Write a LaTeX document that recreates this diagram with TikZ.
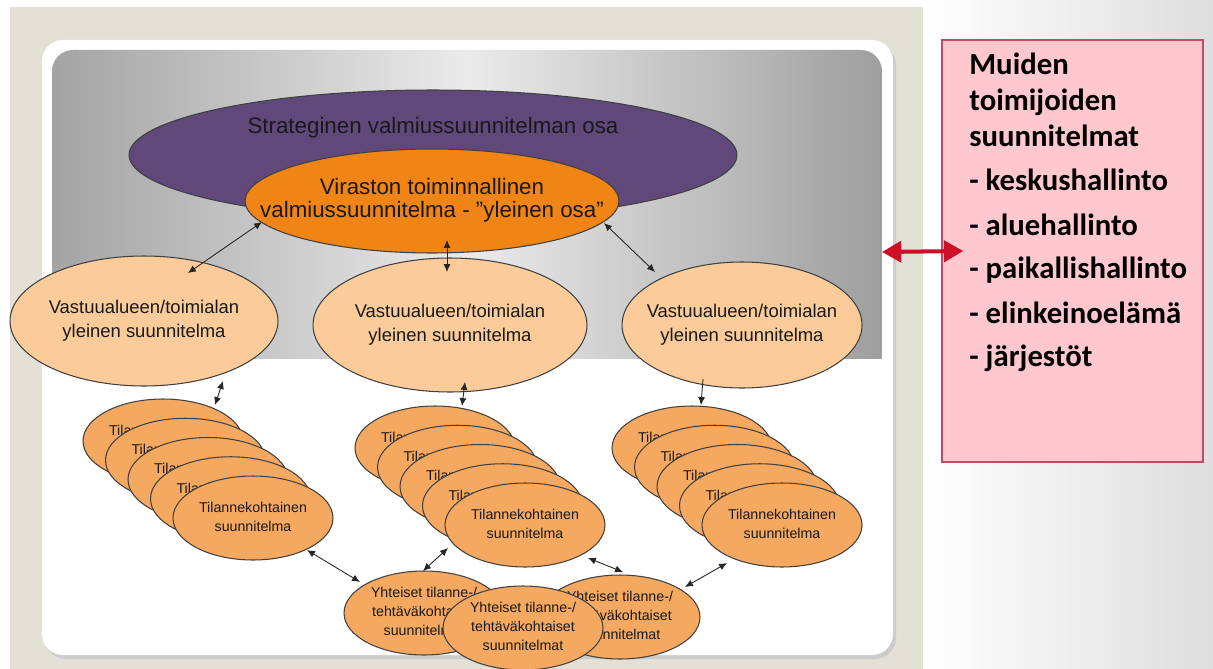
\documentclass[tikz,border=0pt]{standalone}
\usepackage{fontspec}
\setmainfont{Liberation Sans}
\newfontfamily\boxfont{Carlito}
\usetikzlibrary{arrows.meta, shapes.geometric}

\definecolor{slidebg}{RGB}{227,224,214}
\definecolor{stratviolet}{RGB}{96,73,122}
\definecolor{virorange}{RGB}{240,132,20}
\definecolor{areapeach}{RGB}{251,204,154}
\definecolor{tilaorange}{RGB}{245,168,96}
\definecolor{boxpink}{RGB}{255,199,206}
\definecolor{boxrim}{RGB}{200,72,100}
\definecolor{arrowred}{RGB}{204,16,40}

% text in a zero-width box, so the ellipse keeps its given size
\newcommand{\ctext}[1]{\makebox[0pt]{\begin{tabular}{@{}c@{}}#1\end{tabular}}}

\begin{document}
\begin{tikzpicture}[x=0.02cm, y=-0.02cm,
    plan/.style={ellipse, draw=black!75, line width=0.6pt, inner sep=0pt, text=black!90},
    strat/.style={plan, fill=stratviolet, minimum width=12.16cm, minimum height=2.6cm},
    vir/.style={plan, fill=virorange, minimum width=7.48cm, minimum height=2.08cm, font=\fontsize{12.7}{12.5}\selectfont},
    area/.style={plan, fill=areapeach, font=\fontsize{10.5}{13.6}\selectfont},
    tila/.style={plan, fill=tilaorange, minimum width=3.2cm, minimum height=1.68cm, font=\fontsize{8.1}{10.8}\selectfont},
    link/.style={{Latex[length=4.5pt,width=4pt]}-{Latex[length=4.5pt,width=4pt]}, line width=0.5pt, black!85},
    redlink/.style={{Triangle[length=11pt,width=12pt]}-{Triangle[length=11pt,width=12pt]}, line width=2.3pt, arrowred},
    boxline/.style={anchor=base west, inner sep=0pt, font=\boxfont\bfseries\fontsize{17.5}{20}\selectfont},
    ]
    \useasboundingbox (0,0) rectangle (1213,669);

    % tausta
    \fill[white] (0,0) rectangle (1213,669);
    \fill[slidebg] (10,7) rectangle (923,669);
    \shade[left color=white, right color=black!13] (923,0) rectangle (1213,669);

    % dia
    \fill[black!20, rounded corners=12] (45,44) rectangle (896,659);
    \fill[white, rounded corners=12] (42,40) rectangle (893,655);
    \begin{scope}
        \clip (52,50) rectangle (882,358);
        \shade[left color=black!36, right color=black!38, middle color=black!8, rounded corners=12] (52,50) rectangle (882,380);
    \end{scope}

    % strateginen ja yleinen osa
    \node[strat] (strat) at (433,155) {};
    \node[font=\fontsize{12.7}{12.5}\selectfont, text=black!90] (strattxt) at (433,128) {Strateginen valmiussuunnitelman osa};
    \node[vir] (vir) at (432,201) {\ctext{Viraston toiminnallinen\\valmiussuunnitelma - ”yleinen osa”}};

    % vastuualueet
    \node[area, minimum width=5.36cm, minimum height=2.6cm] (va) at (144,321) {\ctext{Vastuualueen/toimialan\\yleinen suunnitelma}};
    \node[area, minimum width=5.48cm, minimum height=2.68cm] (vb) at (450,325) {\ctext{Vastuualueen/toimialan\\yleinen suunnitelma}};
    \node[area, minimum width=4.8cm, minimum height=2.52cm] (vc) at (742,325) {\ctext{Vastuualueen/toimialan\\yleinen suunnitelma}};

    % tilannekohtaiset pinot
    \foreach \s/\x/\y in {tl/163/441, tm/435/448, tr/692/448}
        \foreach \i in {0,...,4}
            \node[tila] (\s\i) at ({\x+22.5*\i},{\y+19.25*\i}) {\ctext{Tilannekohtainen\\suunnitelma}};

    % yhteiset
    \node[tila] (yl) at (424,613) {\ctext{Yhteiset tilanne-/\\tehtäväkohtaiset\\suunnitelmat}};
    \node[tila] (yr) at (620,617) {\ctext{Yhteiset tilanne-/\\tehtäväkohtaiset\\suunnitelmat}};
    \node[tila] (yf) at (523,628) {\ctext{Yhteiset tilanne-/\\tehtäväkohtaiset\\suunnitelmat}};

    % yhteydet
    \draw[link] ([shift={(-170,21)}]vir.center) -- ([shift={(44,-48)}]va.center);
    \draw[link] ([shift={(15,39)}]vir.center) -- ([shift={(-3,-53)}]vb.center);
    \draw[link] ([shift={(172,22)}]vir.center) -- ([shift={(-87,-53)}]vc.center);
    \draw[link] ([shift={(79,60)}]va.center) -- ([shift={(52,-36)}]tl0.center);
    \draw[link] ([shift={(15,57)}]vb.center) -- ([shift={(27,-42)}]tm0.center);
    \draw[link, {Latex[length=4.5pt,width=4pt]}-] ([shift={(9,-43)}]tr0.center) -- ([shift={(-39,54)}]vc.center);
    \draw[link] ([shift={(54,32)}]tl4.center) -- ([shift={(-64,-31)}]yl.center);
    \draw[link] ([shift={(-77,23)}]tm4.center) -- ([shift={(-1,-42)}]yl.center);
    \draw[link] ([shift={(63,33)}]tm4.center) -- ([shift={(3,-45)}]yr.center);
    \draw[link] ([shift={(-55,38)}]tr4.center) -- ([shift={(65,-30)}]yr.center);

    % muut toimijat
    \node[draw=boxrim, fill=boxpink, line width=0.9pt, minimum width=5.22cm, minimum height=8.44cm, inner sep=0pt] (box) at (1072.5,251) {};
    \foreach \t/\y [count=\i] in {Muiden/75, toimijoiden/111, suunnitelmat/146, - keskushallinto/190, - aluehallinto/235, - paikallishallinto/278, - elinkeinoelämä/323, - järjestöt/366}
        \node[boxline] (m\i) at (969,\y) {\t};
    \coordinate (gp) at (882,252);
    \draw[redlink] (gp) -- ([shift={(22,0)}]box.west);
\end{tikzpicture}
\end{document}
